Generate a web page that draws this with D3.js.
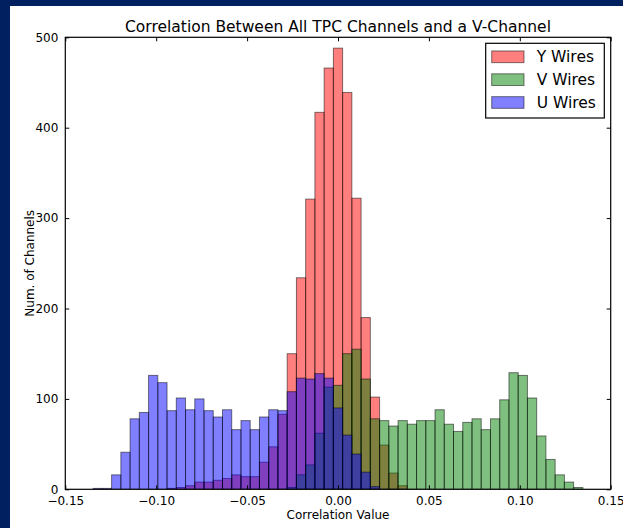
<!DOCTYPE html>
<html>
<head>
<meta charset="utf-8">
<script src="https://cdn.jsdelivr.net/npm/d3@7"></script>
<style>
  html, body { margin: 0; padding: 0; background: #002060; }
  svg { display: block; }
  text { font-family: "DejaVu Sans", sans-serif; fill: #000; }
</style>
</head>
<body>
<svg id="chart" width="623" height="528"></svg>
<script>
// Histogram bin edges (shared by all three wire planes)
const binStart = -0.1347;
const binEnd = 0.1347;
const binCount = 53;

// Counts per bin, one array per wire plane
const yWires = [0, 0, 0, 0, 0, 0, 0, 0, 1, 2, 4, 8, 8, 10, 12, 16, 14, 14, 30, 47, 83, 150, 234, 321, 417, 466, 488, 439, 322, 190, 102, 49, 18, 4, 0, 0, 0, 0, 0, 0, 0, 0, 0, 0, 0, 0, 0, 0, 0, 0, 0, 0, 0];
const vWires = [0, 0, 0, 0, 0, 0, 0, 0, 0, 0, 0, 0, 0, 0, 0, 0, 0, 0, 0, 0, 0, 2, 16, 27, 62, 113, 115, 150, 155, 122, 78, 76, 70, 76, 72, 76, 76, 88, 72, 64, 74, 78, 66, 78, 99, 129, 126, 101, 59, 33, 16, 8, 2];
const uWires = [1, 1, 16, 41, 78, 85, 126, 118, 87, 101, 88, 100, 87, 80, 88, 66, 76, 66, 80, 88, 87, 108, 123, 122, 128, 123, 90, 60, 39, 19, 3, 0, 0, 0, 0, 0, 0, 0, 0, 0, 0, 0, 0, 0, 0, 0, 0, 0, 0, 0, 0, 0, 0];

const seriesNames = ["Y Wires", "V Wires", "U Wires"];
const seriesColors = ["#ff0000", "#008000", "#0000ff"];

const xTicks = [-0.15, -0.10, -0.05, 0.00, 0.05, 0.10, 0.15];
const yTicks = [0, 100, 200, 300, 400, 500];

const titleText = "Correlation Between All TPC Channels and a V-Channel";
const xLabel = "Correlation Value";
const yLabel = "Num. of Channels";

// ---- layout ----
const W = 623, H = 528;
const plot = { left: 65.3, right: 610.7, top: 37.3, bottom: 489.3 };

const svg = d3.select("#chart");

// slide background and white figure panel
svg.append("rect").attr("x", 0).attr("y", 0).attr("width", W).attr("height", H).attr("fill", "#002060");
svg.append("rect").attr("x", 10).attr("y", 6).attr("width", W - 10).attr("height", H - 6).attr("fill", "#ffffff");

const x = d3.scaleLinear().domain([-0.15, 0.15]).range([plot.left, plot.right]);
const y = d3.scaleLinear().domain([0, 500]).range([plot.bottom, plot.top]);

const binW = (binEnd - binStart) / binCount;
const edges = d3.range(binCount + 1).map(i => binStart + i * binW);

svg.append("defs").append("clipPath").attr("id", "plotClip")
  .append("rect")
  .attr("x", plot.left).attr("y", plot.top)
  .attr("width", plot.right - plot.left).attr("height", plot.bottom - plot.top);

const barsG = svg.append("g").attr("clip-path", "url(#plotClip)");

[yWires, vWires, uWires].forEach((counts, si) => {
  const data = counts.map((c, i) => ({ x0: edges[i], x1: edges[i + 1], c })).filter(d => d.c > 0);
  barsG.append("g")
    .selectAll("rect")
    .data(data)
    .join("rect")
    .attr("x", d => x(d.x0))
    .attr("width", d => x(d.x1) - x(d.x0))
    .attr("y", d => y(d.c))
    .attr("height", d => y(0) - y(d.c))
    .attr("fill", seriesColors[si])
    .attr("fill-opacity", 0.5)
    .attr("stroke", "#000")
    .attr("stroke-opacity", 0.5)
    .attr("stroke-width", 1);
});

// ---- axes: ticks inside on all four sides ----
const tickLen = 4;
const fmtX = v => d3.format(".2f")(v).replace("-", "\u2212");

const axB = svg.append("g").attr("transform", `translate(0,${plot.bottom})`)
  .call(d3.axisBottom(x).tickValues(xTicks).tickSizeInner(-tickLen).tickSizeOuter(0).tickPadding(7).tickFormat(fmtX));
const axT = svg.append("g").attr("transform", `translate(0,${plot.top})`)
  .call(d3.axisTop(x).tickValues(xTicks).tickSizeInner(-tickLen).tickSizeOuter(0).tickFormat(""));
const axL = svg.append("g").attr("transform", `translate(${plot.left},0)`)
  .call(d3.axisLeft(y).tickValues(yTicks).tickSizeInner(-tickLen).tickSizeOuter(0).tickPadding(7).tickFormat(d3.format("d")));
const axR = svg.append("g").attr("transform", `translate(${plot.right},0)`)
  .call(d3.axisRight(y).tickValues(yTicks).tickSizeInner(-tickLen).tickSizeOuter(0).tickFormat(""));

[axB, axT, axL, axR].forEach(g => {
  g.select(".domain").remove();
  g.selectAll(".tick line").attr("stroke", "#000").attr("stroke-width", 1);
  g.selectAll(".tick text").attr("font-family", "DejaVu Sans").attr("font-size", 12).attr("fill", "#222");
});

// frame
svg.append("rect")
  .attr("x", plot.left).attr("y", plot.top)
  .attr("width", plot.right - plot.left).attr("height", plot.bottom - plot.top)
  .attr("fill", "none").attr("stroke", "#000").attr("stroke-width", 1.2);

// title and axis labels
svg.append("text")
  .attr("x", (plot.left + plot.right) / 2).attr("y", 31.5)
  .attr("text-anchor", "middle").attr("font-size", 15.5).attr("fill", "#222")
  .text(titleText);

svg.append("text")
  .attr("x", (plot.left + plot.right) / 2).attr("y", 519)
  .attr("text-anchor", "middle").attr("font-size", 12).attr("fill", "#222")
  .text(xLabel);

svg.append("text")
  .attr("transform", `translate(33.5,${(plot.top + plot.bottom) / 2}) rotate(-90)`)
  .attr("text-anchor", "middle").attr("font-size", 12).attr("fill", "#222")
  .text(yLabel);

// legend
const legend = svg.append("g");
legend.append("rect")
  .attr("x", 485.7).attr("y", 43.3).attr("width", 118.6).attr("height", 74.7)
  .attr("fill", "#fff").attr("stroke", "#000").attr("stroke-width", 1.2);

seriesNames.forEach((name, i) => {
  const cy = 56.8 + i * 22.85;
  legend.append("rect")
    .attr("x", 491.7).attr("y", cy - 5.85).attr("width", 32.3).attr("height", 11.7)
    .attr("fill", seriesColors[i]).attr("fill-opacity", 0.5)
    .attr("stroke", "#000").attr("stroke-opacity", 0.5).attr("stroke-width", 1);
  legend.append("text")
    .attr("x", 536.7).attr("y", cy + 5.6)
    .attr("font-size", 15.5).attr("fill", "#222")
    .text(name);
});
</script>
</body>
</html>
